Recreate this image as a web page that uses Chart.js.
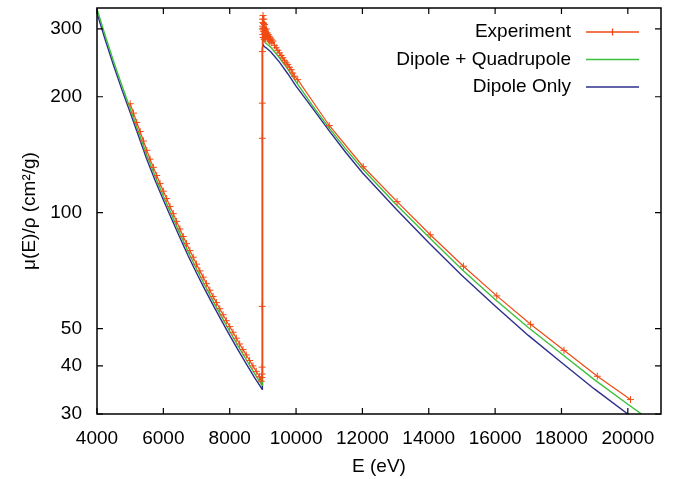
<!DOCTYPE html>
<html>
<head>
<meta charset="utf-8">
<script src="https://cdn.jsdelivr.net/npm/chart.js@4"></script>
<style>
  html, body { margin: 0; padding: 0; background: #fff; }
  canvas { display: block; }
</style>
</head>
<body>
<canvas id="muChart" width="675" height="479"></canvas>
<script>
// Experiment (E in eV, mu/rho in cm^2/g)
const expE = [5000, 5100, 5200, 5300, 5400, 5500, 5600, 5700, 5800, 5900,
  6000, 6100, 6200, 6300, 6400, 6500, 6600, 6700, 6800, 6900,
  7000, 7100, 7200, 7300, 7400, 7500, 7600, 7700, 7800, 7900,
  8000, 8100, 8200, 8300, 8400, 8500, 8600, 8700, 8800, 8900,
  8950, 8970, 8975, 8978, 8980, 8982, 8984, 8986, 8988, 8990,
  8993, 8996, 9000, 9004, 9008, 9012, 9016, 9020, 9025, 9030,
  9035, 9040, 9045, 9050, 9060, 9070, 9080, 9090, 9100, 9115,
  9130, 9145, 9160, 9175, 9190, 9210, 9230, 9250, 9270, 9300,
  9350, 9400, 9450, 9500, 9550, 9600, 9650, 9700, 9750, 9800,
  9850, 9900, 9950, 10050, 11000, 12025, 13045, 14045, 15045, 16050,
  17070, 18075, 19080, 20080];
const expMu = [191.8, 181.3, 171.5, 162.4, 153.5, 145.2, 137.7, 131.1, 124.9, 119.0,
  113.7, 108.8, 103.7, 99.4, 94.9, 90.7, 86.7, 83.1, 79.7, 76.6,
  73.5, 70.6, 68.0, 65.4, 62.9, 60.6, 58.4, 56.3, 54.3, 52.4,
  50.6, 48.9, 47.2, 45.6, 44.1, 42.7, 41.3, 40.0, 38.7, 37.5,
  36.5, 37.3, 38.1, 39.7, 57.1, 156, 192.5, 262, 300, 318,
  305, 290, 312, 325, 300, 285, 296, 310, 302, 318,
  295, 282, 300, 308, 292, 298, 286, 294, 300, 288,
  293, 283, 290, 281, 287, 279, 284, 276, 281, 279,
  272, 268, 264, 260, 256, 252.4, 248, 245, 242.4, 238.5,
  235.2, 230.5, 226.1, 221.5, 168.4, 131.6, 106.8, 87.6, 72.6, 60.8,
  51.3, 43.9, 37.6, 32.7];

// Dipole + Quadrupole
const dqE = [4000, 4250, 4500, 4750, 5000, 5250, 5500, 5750, 6000, 6250,
  6500, 6750, 7000, 7250, 7500, 7750, 8000, 8250, 8500, 8750,
  8979, 8980, 8984, 8988, 8992, 8996, 9000, 9008, 9016, 9030,
  9050, 9080, 9120, 9250, 9500, 9750, 10000, 10500, 11000, 11500,
  12000, 13000, 14000, 15000, 16000, 17000, 18000, 19000, 20000, 21000];
const dqMu = [338, 287.6, 246.9, 213.8, 186.5, 162.2, 141.1, 124.4, 110.5, 98.7,
  88.2, 79.1, 71.4, 64.8, 58.9, 53.8, 49.2, 45.1, 41.5, 38.2,
  35.6, 268, 296, 280, 293, 283, 290, 278, 287, 280,
  284, 276, 274, 268, 252.5, 236, 218.5, 189.3, 165.8, 146.2,
  130.0, 105.3, 86.4, 71.2, 59.5, 50.3, 43.0, 36.8, 31.8, 27.6];

// Dipole only
const dE = [4000, 4250, 4500, 4750, 5000, 5250, 5500, 5750, 6000, 6250,
  6500, 6750, 7000, 7250, 7500, 7750, 8000, 8250, 8500, 8750,
  8979, 8980, 8990, 9010, 9040, 9100, 9250, 9500, 9750, 10000,
  10500, 11000, 11500, 12000, 13000, 14000, 15000, 16000, 17000, 18000,
  19000, 20000, 21000];
const dMu = [330, 280.7, 241, 208.7, 182, 158.3, 137.7, 121.4, 107.8, 96.3,
  86.1, 77.2, 69.7, 63.2, 57.5, 52.5, 48.0, 44.0, 40.5, 37.3,
  34.8, 262, 268, 273, 270, 268, 261, 246, 229.5, 213,
  186.6, 163, 143.3, 127, 102.5, 83.5, 68.7, 57.2, 48.0, 40.8,
  34.8, 30.0, 26.2];

const xTicks = [4000, 6000, 8000, 10000, 12000, 14000, 16000, 18000, 20000];
const yTicks = [30, 40, 50, 100, 200, 300];

const seriesNames = ['Experiment', 'Dipole + Quadrupole', 'Dipole Only'];
const seriesColors = ['#f04a14', '#3cbf3c', '#2e2e8c'];

const FONT = 'Liberation Sans, Arial, Helvetica, sans-serif';
const toPoints = (xs, ys) => xs.map((x, i) => ({ x: x, y: ys[i] }));

// frame with inward ticks on all four sides, plus gnuplot-style key
const framePlugin = {
    id: 'frame',
    afterDraw(chart) {
        const ctx = chart.ctx;
        const xs = chart.scales.x, ys = chart.scales.y;
        const L = xs.left, R = xs.right, T = ys.top, B = ys.bottom;
        ctx.save();
        ctx.strokeStyle = '#000';
        ctx.lineWidth = 1.5;
        ctx.beginPath();
        ctx.moveTo(L, T); ctx.lineTo(R, T); ctx.lineTo(R, B); ctx.lineTo(L, B); ctx.closePath();
        ctx.stroke();
        ctx.lineWidth = 1.2;
        ctx.beginPath();
        xTicks.forEach(v => {
            const px = xs.getPixelForValue(v);
            ctx.moveTo(px, B); ctx.lineTo(px, B - 6);
            ctx.moveTo(px, T); ctx.lineTo(px, T + 6);
        });
        yTicks.forEach(v => {
            const py = ys.getPixelForValue(v);
            ctx.moveTo(L, py); ctx.lineTo(L + 6, py);
            ctx.moveTo(R, py); ctx.lineTo(R - 6, py);
        });
        ctx.stroke();

        // key
        ctx.font = '19px ' + FONT;
        ctx.textAlign = 'right';
        ctx.textBaseline = 'middle';
        seriesNames.forEach((name, i) => {
            const y = 32 + i * 27.5;
            ctx.fillStyle = '#000';
            ctx.fillText(name, 571, y);
            ctx.strokeStyle = seriesColors[i];
            ctx.lineWidth = 1.3;
            ctx.beginPath();
            ctx.moveTo(586, y); ctx.lineTo(639, y);
            if (i === 0) {
                ctx.moveTo(612.5, y - 3.5); ctx.lineTo(612.5, y + 3.5);
            }
            ctx.stroke();
        });
        ctx.restore();
    }
};

const tickFont = { family: FONT, size: 19 };

new Chart(document.getElementById('muChart'), {
    type: 'line',
    data: {
        datasets: [{
            label: seriesNames[0],
            data: toPoints(expE, expMu),
            borderColor: seriesColors[0],
            backgroundColor: seriesColors[0],
            borderWidth: 1.2,
            pointStyle: 'cross',
            pointRadius: 3.5,
            pointBorderWidth: 1,
            pointBorderColor: seriesColors[0]
        }, {
            label: seriesNames[1],
            data: toPoints(dqE, dqMu),
            borderColor: seriesColors[1],
            borderWidth: 1.4,
            pointRadius: 0
        }, {
            label: seriesNames[2],
            data: toPoints(dE, dMu),
            borderColor: seriesColors[2],
            borderWidth: 1.4,
            pointRadius: 0
        }]
    },
    options: {
        responsive: false,
        animation: false,
        devicePixelRatio: 1,
        layout: { padding: { top: 8, right: 14, left: 0, bottom: 0 } },
        plugins: {
            legend: { display: false },
            tooltip: { enabled: false }
        },
        scales: {
            x: {
                type: 'linear',
                min: 4000,
                max: 21000,
                afterBuildTicks: s => { s.ticks = xTicks.map(v => ({ value: v })); },
                afterFit: s => { s.height = 65; s.paddingLeft = 0; s.paddingRight = 0; },
                grid: { display: false, drawTicks: false },
                border: { display: false },
                ticks: {
                    color: '#000',
                    font: tickFont,
                    padding: 13,
                    maxRotation: 0,
                    autoSkip: false,
                    callback: v => String(v)
                },
                title: {
                    display: true,
                    text: 'E (eV)',
                    color: '#000',
                    font: tickFont,
                    padding: { top: 0, bottom: 1 }
                }
            },
            y: {
                type: 'logarithmic',
                min: 30,
                max: 340,
                afterBuildTicks: s => { s.ticks = yTicks.map(v => ({ value: v })); },
                afterFit: s => { s.width = 97; s.paddingTop = 0; s.paddingBottom = 0; },
                grid: { display: false, drawTicks: false },
                border: { display: false },
                ticks: {
                    color: '#000',
                    font: tickFont,
                    padding: 15,
                    autoSkip: false,
                    callback: v => String(v)
                },
                title: {
                    display: true,
                    text: 'μ(E)/ρ (cm²/g)',
                    color: '#000',
                    font: tickFont,
                    padding: { top: 18, bottom: 0 }
                }
            }
        }
    },
    plugins: [framePlugin]
});
</script>
</body>
</html>
